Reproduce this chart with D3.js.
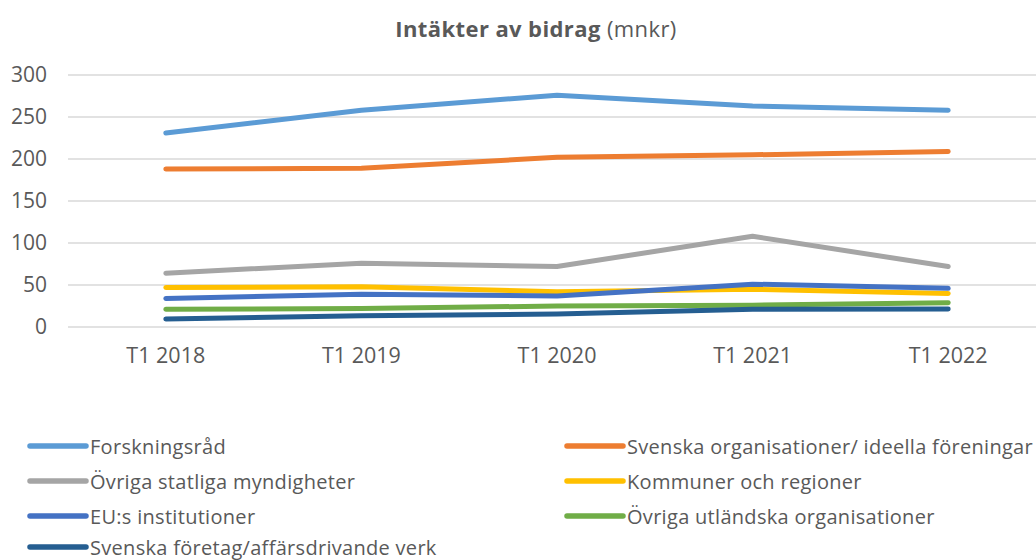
<!DOCTYPE html>
<html>
<head>
<meta charset="utf-8">
<script src="https://cdn.jsdelivr.net/npm/d3@7"></script>
<style>
  body { margin: 0; background: #fff; }
  svg { display: block; font-family: "Open Sans", "Liberation Sans", sans-serif; }
</style>
</head>
<body>
<div id="chart"></div>
<script>
let categories = ["T1 2018", "T1 2019", "T1 2020", "T1 2021", "T1 2022"];
let yTicks = [0, 50, 100, 150, 200, 250, 300];

let seriesNames = [
    "Forskningsråd",
    "Svenska organisationer/ ideella föreningar",
    "Övriga statliga myndigheter",
    "Kommuner och regioner",
    "EU:s institutioner",
    "Övriga utländska organisationer",
    "Svenska företag/affärsdrivande verk"
];
let forskningsrad = [231, 258, 276, 263, 258];
let svenskaOrg = [188, 189, 202, 205, 209];
let ovrigaStatliga = [64, 76, 72, 108, 72];
let kommuner = [47, 48, 42, 45, 40];
let euInst = [34, 39, 37, 51, 46];
let ovrigaUtl = [21, 22, 25, 26, 29];
let svenskaForetag = [9.5, 13.5, 15.5, 21, 21.5];

let seriesValues = [forskningsrad, svenskaOrg, ovrigaStatliga, kommuner, euInst, ovrigaUtl, svenskaForetag];
let colors = ["#5B9BD5", "#ED7D31", "#A5A5A5", "#FFC000", "#4472C4", "#70AD47", "#255E91"];

let width = 1036;
let height = 560;
let textColor = "#595959";
let fontStack = "'Open Sans', 'Liberation Sans', sans-serif";

let svg = d3.select("#chart")
    .append("svg")
    .attr("width", width)
    .attr("height", height);

let x = d3.scaleBand()
    .domain(categories)
    .range([68, 1046])
    .padding(0);

let y = d3.scaleLinear()
    .domain([0, 300])
    .range([327, 75]);

let cx = d => x(d) + x.bandwidth() / 2;

// title
let title = svg.append("text")
    .attr("x", 536)
    .attr("y", 37)
    .attr("text-anchor", "middle")
    .style("font-size", "22px")
    .style("letter-spacing", "0.4px")
    .style("fill", textColor);
title.append("tspan").style("font-weight", "bold").text("Intäkter av bidrag");
title.append("tspan").text(" (mnkr)");

// gridlines
svg.append("g")
    .selectAll("line")
    .data(yTicks)
    .enter()
    .append("line")
    .attr("x1", 68)
    .attr("x2", 1046)
    .attr("y1", d => y(d))
    .attr("y2", d => y(d))
    .style("stroke", "#D9D9D9")
    .style("stroke-width", 1.3);

// y axis
let yAxis = svg.append("g")
    .attr("transform", "translate(50,0)")
    .call(d3.axisLeft(y).tickValues(yTicks).tickSize(0).tickPadding(3));
yAxis.select(".domain").remove();
yAxis.selectAll("text")
    .style("font-size", "21px")
    .style("font-family", fontStack)
    .style("fill", textColor);

// x axis
let xAxis = svg.append("g")
    .attr("transform", "translate(0,327)")
    .call(d3.axisBottom(x).tickSize(0).tickPadding(21));
xAxis.select(".domain").remove();
xAxis.selectAll("text")
    .style("font-size", "21.5px")
    .style("font-family", fontStack)
    .style("fill", textColor);

// lines
let line = d3.line()
    .x((d, i) => cx(categories[i]))
    .y(d => y(d));

seriesValues.forEach((vals, i) => {
    svg.append("path")
        .datum(vals)
        .attr("d", line)
        .style("fill", "none")
        .style("stroke", colors[i])
        .style("stroke-width", 5)
        .style("stroke-linecap", "round")
        .style("stroke-linejoin", "round");
});

// legend
let legendPos = [
    [30, 446], [567, 446],
    [30, 481], [567, 481],
    [30, 516], [567, 516],
    [30, 547]
];

let legend = svg.append("g")
    .selectAll("g")
    .data(seriesNames)
    .enter()
    .append("g")
    .attr("transform", (d, i) => `translate(${legendPos[i][0]},${legendPos[i][1]})`);

legend.append("line")
    .attr("x1", 0)
    .attr("x2", 56)
    .attr("y1", 0)
    .attr("y2", 0)
    .style("stroke", (d, i) => colors[i])
    .style("stroke-width", 5.5)
    .style("stroke-linecap", "round");

legend.append("text")
    .attr("x", 60)
    .attr("y", 7.5)
    .style("font-size", "20px")
    .style("letter-spacing", "0.3px")
    .style("fill", textColor)
    .text(d => d);
</script>
</body>
</html>
